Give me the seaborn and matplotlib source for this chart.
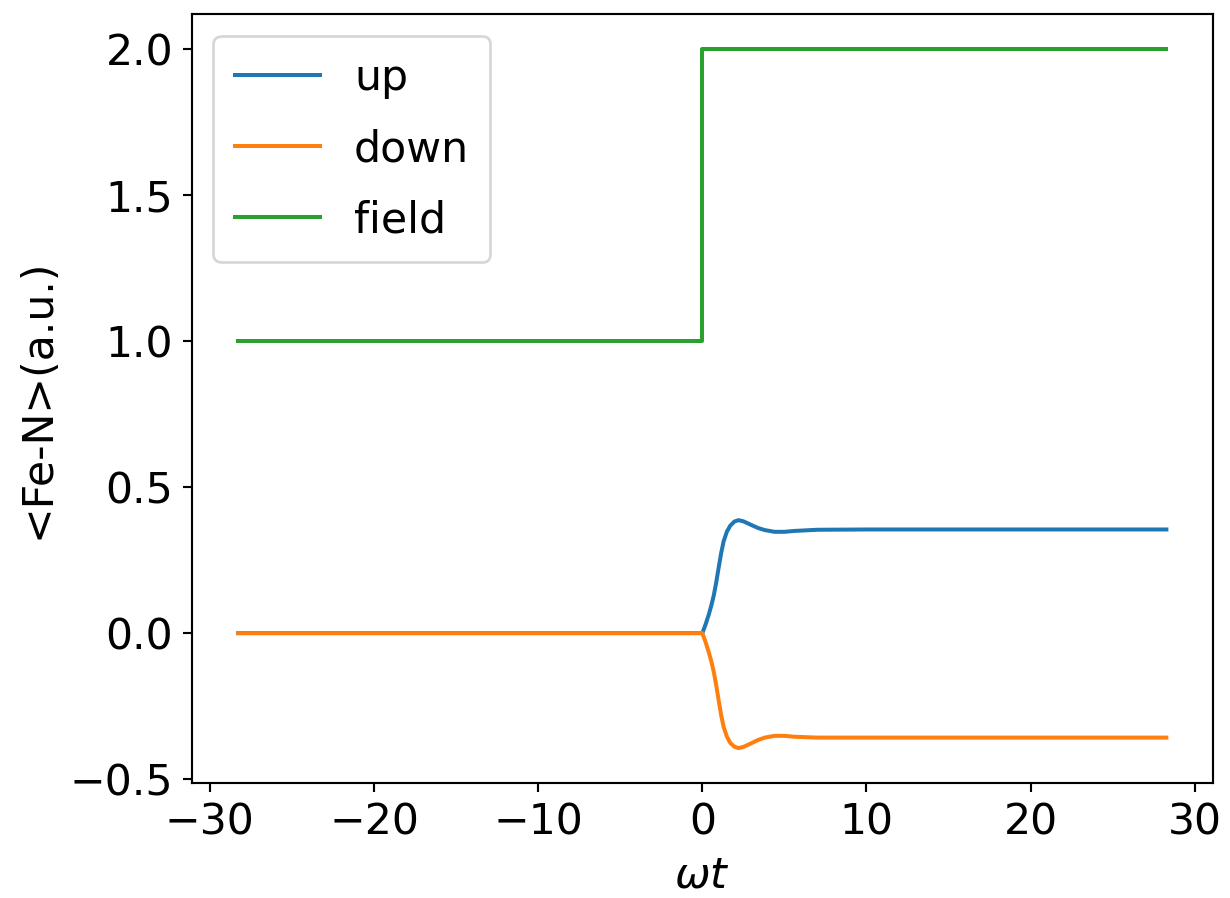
import numpy as np
import pandas as pd
import matplotlib
matplotlib.use('Agg')
import matplotlib.pyplot as plt
import seaborn as sns

# time points (omega t), run goes from -9pi to 9pi
t_pts = [-28.27, 0.0, 0.2, 0.4, 0.55, 0.7, 0.85, 1.0, 1.15, 1.3, 1.5, 1.7, 1.95, 2.2, 2.5, 3.0, 3.4, 3.8, 4.4, 5.0, 5.6, 7.0, 10.0, 28.27]
up_vals = [0.0, 0.0, 0.03, 0.065, 0.095, 0.13, 0.175, 0.226, 0.275, 0.315, 0.348, 0.368, 0.382, 0.387, 0.383, 0.37, 0.36, 0.353, 0.347, 0.347, 0.35, 0.354, 0.355, 0.355]
down_vals = [0.0, 0.0, -0.031, -0.067, -0.097, -0.134, -0.18, -0.232, -0.282, -0.322, -0.355, -0.376, -0.389, -0.394, -0.39, -0.377, -0.366, -0.358, -0.352, -0.352, -0.355, -0.358, -0.358, -0.358]

# field switches from 1 to 2 at t = 0
field_t = [-28.27, 0.0, 0.0, 28.27]
field_vals = [1.0, 1.0, 2.0, 2.0]

fig, ax = plt.subplots(figsize=(1230/192, 898/192), dpi=192)
fig.subplots_adjust(left=0.156, right=0.986, bottom=0.128, top=0.984)

sns.lineplot(x=t_pts, y=up_vals, ax=ax, color='#1f77b4', label='up', estimator=None, sort=False, lw=1.5)
sns.lineplot(x=t_pts, y=down_vals, ax=ax, color='#ff7f0e', label='down', estimator=None, sort=False, lw=1.5)
sns.lineplot(x=field_t, y=field_vals, ax=ax, color='#2ca02c', label='field', estimator=None, sort=False, lw=1.5)

ax.set_xticks([-30, -20, -10, 0, 10, 20, 30])
ax.set_yticks([-0.5, 0.0, 0.5, 1.0, 1.5, 2.0])
ax.tick_params(labelsize=16)
ax.set_xlabel(r'$\omega t$', fontsize=16)
ax.set_ylabel('<Fe-N>(a.u.)', fontsize=16)
ax.legend(loc='upper left', fontsize=16, labelspacing=0.68, borderpad=0.5)

fig.savefig('out.png', dpi=192)
